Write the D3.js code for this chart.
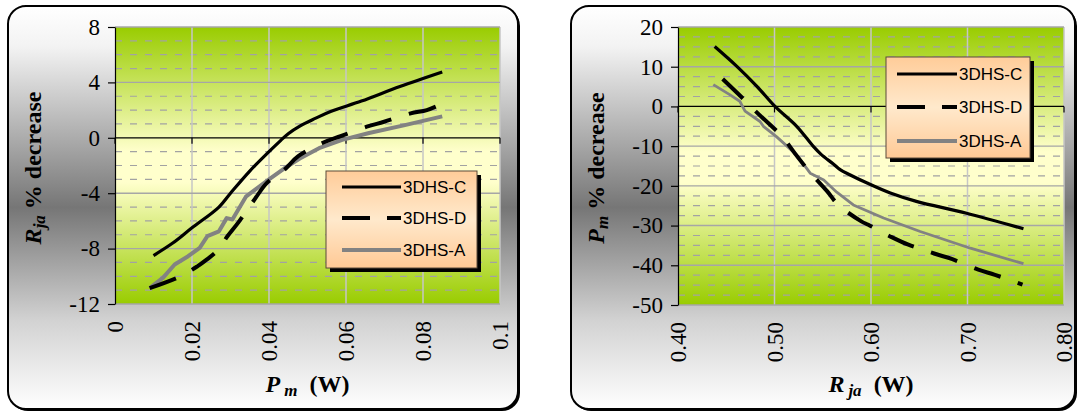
<!DOCTYPE html>
<html>
<head>
<meta charset="utf-8">
<script src="https://cdn.jsdelivr.net/npm/d3@7"></script>
<style>
  html, body { margin: 0; padding: 0; background: #ffffff; }
  svg { display: block; }
</style>
</head>
<body>
<svg id="chart" width="1078" height="413"></svg>
<script>
// ---- Left panel: Rja % decrease against Pm (W) ----
const leftXTicks = [0, 0.02, 0.04, 0.06, 0.08, 0.1];
const leftXTickLabels = ["0", "0.02", "0.04", "0.06", "0.08", "0.1"];
const leftYTicks = [8, 4, 0, -4, -8, -12];
const leftYTickLabels = ["8", "4", "0", "-4", "-8", "-12"];

const leftC = [[0.010,-8.5],[0.015,-7.6],[0.020,-6.5],[0.027,-5.0],[0.030,-4.0],[0.035,-2.4],
  [0.040,-1.0],[0.043,-0.2],[0.045,0.3],[0.048,0.85],[0.052,1.4],[0.056,1.9],[0.064,2.65],
  [0.074,3.7],[0.085,4.75]];
const leftD = [[0.009,-10.85],[0.017,-10.0],[0.0214,-9.28],[0.0238,-8.8],[0.0268,-8.08],
  [0.0292,-7.11],[0.0322,-6.05],[0.0364,-4.39],[0.0394,-3.27],[0.044,-2.3],[0.0476,-1.33],
  [0.054,-0.36],[0.0586,0.12],[0.0654,0.8],[0.0699,1.16],[0.0768,1.76],[0.081,2.0],[0.0845,2.4]];
const leftA = [[0.009,-10.85],[0.0125,-10.1],[0.0155,-9.15],[0.019,-8.55],[0.022,-7.95],
  [0.024,-7.1],[0.027,-6.75],[0.029,-5.8],[0.0305,-5.9],[0.034,-4.25],[0.040,-3.0],[0.044,-2.2],
  [0.048,-1.5],[0.053,-0.75],[0.059,-0.15],[0.066,0.35],[0.075,0.9],[0.085,1.55]];

// ---- Right panel: Pm % decrease against Rja (W) ----
const rightXTicks = [0.40, 0.50, 0.60, 0.70, 0.80];
const rightXTickLabels = ["0.40", "0.50", "0.60", "0.70", "0.80"];
const rightYTicks = [20, 10, 0, -10, -20, -30, -40, -50];
const rightYTickLabels = ["20", "10", "0", "-10", "-20", "-30", "-40", "-50"];

const rightC = [[0.438,15.1],[0.461,10.1],[0.482,5.0],[0.5005,0],[0.523,-5.0],[0.540,-10.0],
  [0.548,-12.0],[0.561,-14.5],[0.568,-15.9],[0.578,-17.2],[0.596,-19.3],[0.620,-21.8],
  [0.647,-23.9],[0.699,-26.9],[0.758,-30.8]];
const rightD = [[0.4463,6.9],[0.4677,1.9],[0.4808,-1.3],[0.503,-6.3],[0.5067,-7.1],[0.5223,-12.2],
  [0.5361,-16.4],[0.5547,-21.4],[0.5661,-24.8],[0.5904,-29.0],[0.5972,-29.8],[0.6214,-32.9],
  [0.6387,-34.8],[0.6663,-37.1],[0.6836,-38.4],[0.7112,-41.1],[0.7285,-42.4],[0.757,-44.9]];
const rightA = [[0.4366,5.5],[0.454,2.9],[0.464,1.3],[0.4695,-1.2],[0.485,-3.8],[0.4885,-5.0],
  [0.502,-7.6],[0.523,-12.2],[0.537,-16.8],[0.551,-18.5],[0.5645,-21.6],[0.5817,-24.8],
  [0.613,-28.1],[0.651,-31.5],[0.703,-35.7],[0.758,-39.6]];

const seriesNames = ["3DHS-C", "3DHS-D", "3DHS-A"];

const svg = d3.select("#chart");
const defs = svg.append("defs");

function vGradient(id, stops) {
  const g = defs.append("linearGradient").attr("id", id)
    .attr("x1", 0).attr("y1", 0).attr("x2", 0).attr("y2", 1);
  stops.forEach(([o, c]) => g.append("stop").attr("offset", o).attr("stop-color", c));
}
vGradient("panelFill", [[0, "#ffffff"], [0.1, "#f3f3f3"], [0.5, "#767676"], [0.78, "#d2d2d2"], [1, "#ffffff"]]);
vGradient("plotFill", [[0, "#99cc00"], [0.45, "#ffffcc"], [0.56, "#ffffcc"], [1, "#99cc00"]]);
vGradient("legendFill", [[0, "#ffcc99"], [0.5, "#ffe9cc"], [1, "#ffc995"]]);

const serif = "'Liberation Serif', 'Times New Roman', serif";
const sans = "'Liberation Sans', Arial, sans-serif";

const styles = [
  { color: "#000000", width: 3.2, dash: null },
  { color: "#000000", width: 4, dash: "28,18" },
  { color: "#828282", width: 3.6, dash: null }
];

function drawPanel(cfg) {
  const g = svg.append("g");

  // panel frame with a slight drop shadow
  g.append("rect")
    .attr("x", cfg.panel.x + 2).attr("y", cfg.panel.y + 2)
    .attr("width", cfg.panel.w).attr("height", cfg.panel.h)
    .attr("rx", 18).attr("fill", "#000");
  g.append("rect")
    .attr("x", cfg.panel.x).attr("y", cfg.panel.y)
    .attr("width", cfg.panel.w).attr("height", cfg.panel.h)
    .attr("rx", 18).attr("fill", "url(#panelFill)")
    .attr("stroke", "#000").attr("stroke-width", 2);

  const x = d3.scaleLinear().domain(cfg.xDomain).range([cfg.plot.x0, cfg.plot.x1]);
  const y = d3.scaleLinear().domain(cfg.yDomain).range([cfg.plot.y1, cfg.plot.y0]);

  // plot area
  g.append("rect")
    .attr("x", cfg.plot.x0).attr("y", cfg.plot.y0)
    .attr("width", cfg.plot.x1 - cfg.plot.x0).attr("height", cfg.plot.y1 - cfg.plot.y0)
    .attr("fill", "url(#plotFill)");

  // minor dashed gridlines
  const minor = d3.range(cfg.yDomain[0], cfg.yDomain[1] + 1e-9, cfg.minorStep)
    .filter(v => Math.abs(v / cfg.majorStep - Math.round(v / cfg.majorStep)) > 1e-6);
  g.selectAll(null).data(minor).join("line")
    .attr("x1", cfg.plot.x0).attr("x2", cfg.plot.x1)
    .attr("y1", d => y(d)).attr("y2", d => y(d))
    .attr("stroke", "#a2a2a2").attr("stroke-width", 1.2).attr("stroke-dasharray", "7,8");

  // vertical gridlines
  g.selectAll(null).data(cfg.xTicks.slice(1)).join("line")
    .attr("x1", d => x(d)).attr("x2", d => x(d))
    .attr("y1", cfg.plot.y0).attr("y2", cfg.plot.y1)
    .attr("stroke", "#c6c6c6").attr("stroke-width", 1.5);

  // major horizontal gridlines
  g.selectAll(null).data(cfg.yTicks.filter(v => v !== 0)).join("line")
    .attr("x1", cfg.plot.x0).attr("x2", cfg.plot.x1)
    .attr("y1", d => y(d)).attr("y2", d => y(d))
    .attr("stroke", "#a6a6a6").attr("stroke-width", 1.4);

  // x axis crossing at zero, ticks hanging below
  g.append("line")
    .attr("x1", cfg.plot.x0).attr("x2", cfg.plot.x1)
    .attr("y1", y(0)).attr("y2", y(0))
    .attr("stroke", "#000").attr("stroke-width", 1.2);
  g.selectAll(null).data(cfg.xTicks).join("line")
    .attr("x1", d => x(d)).attr("x2", d => x(d))
    .attr("y1", y(0)).attr("y2", y(0) + 6)
    .attr("stroke", "#000").attr("stroke-width", 1.2);

  // y axis with outward ticks
  const yAxis = d3.axisLeft(y).tickValues(cfg.yTicks)
    .tickFormat((d, i) => cfg.yTickLabels[i]).tickSize(7).tickSizeOuter(0).tickPadding(8);
  const ya = g.append("g").attr("transform", `translate(${cfg.plot.x0},0)`).call(yAxis);
  ya.select(".domain").attr("stroke", "#000").attr("stroke-width", 1.2);
  ya.selectAll(".tick line").attr("stroke", "#000").attr("stroke-width", 1.2);
  ya.selectAll(".tick text")
    .attr("font-family", serif).attr("font-size", 23).attr("fill", "#000");

  // rotated x tick labels below the plot area
  g.selectAll(null).data(cfg.xTicks).join("text")
    .attr("transform", d => `translate(${x(d)},${cfg.plot.y1 + 17}) rotate(-90)`)
    .attr("text-anchor", "end").attr("dy", "0.35em")
    .attr("font-family", serif).attr("font-size", 23).attr("fill", "#000")
    .text((d, i) => cfg.xTickLabels[i]);

  // series
  const line = d3.line().x(d => x(d[0])).y(d => y(d[1]));
  const smooth = d3.line().x(d => x(d[0])).y(d => y(d[1])).curve(d3.curveCatmullRom.alpha(0.5));
  [cfg.series[2], cfg.series[1], cfg.series[0]].forEach((data, k) => {
    const idx = 2 - k;
    const st = styles[idx];
    g.append("path")
      .attr("d", idx === 2 ? line(data) : smooth(data))
      .attr("fill", "none").attr("stroke", st.color)
      .attr("stroke-width", idx === 2 ? cfg.grayWidth : st.width)
      .attr("stroke-linejoin", "round")
      .attr("stroke-dasharray", st.dash);
  });

  // legend
  const L = cfg.legend;
  g.append("rect").attr("x", L.x + 4).attr("y", L.y + 4)
    .attr("width", L.w).attr("height", L.h).attr("fill", "#000");
  g.append("rect").attr("x", L.x).attr("y", L.y)
    .attr("width", L.w).attr("height", L.h)
    .attr("fill", "url(#legendFill)").attr("stroke", "#5a4a3a").attr("stroke-width", 1);
  seriesNames.forEach((name, i) => {
    const ry = L.y + L.rows[i];
    const st = styles[i];
    g.append("line")
      .attr("x1", L.x + L.lineX0).attr("x2", L.x + L.lineX1)
      .attr("y1", ry).attr("y2", ry)
      .attr("stroke", st.color).attr("stroke-width", i === 0 ? 3 : 4)
      .attr("stroke-dasharray", i === 1 ? "28,17" : null);
    g.append("text")
      .attr("x", L.x + L.lineX1 + 2).attr("y", ry).attr("dy", "0.36em")
      .attr("font-family", sans).attr("font-size", 17).attr("fill", "#000")
      .text(name);
  });

  // axis titles
  const yt = g.append("text")
    .attr("transform", `translate(${cfg.panel.x + 33},${cfg.yTitleY}) rotate(-90)`)
    .attr("text-anchor", "middle")
    .attr("font-family", serif).attr("font-size", 24).attr("font-weight", "bold").attr("fill", "#000");
  yt.append("tspan").attr("font-style", "italic").text(cfg.yTitle[0]);
  yt.append("tspan").attr("font-style", "italic").attr("font-size", 17).attr("dy", 4).text(cfg.yTitle[1]);
  yt.append("tspan").attr("dy", -4).text(cfg.yTitle[2]);

  const xt = g.append("text")
    .attr("x", (cfg.plot.x0 + cfg.plot.x1) / 2).attr("y", 392)
    .attr("text-anchor", "middle")
    .attr("font-family", serif).attr("font-size", 24).attr("font-weight", "bold").attr("fill", "#000");
  xt.append("tspan").attr("font-style", "italic").text(cfg.xTitle[0]);
  xt.append("tspan").attr("font-style", "italic").attr("font-size", 17).attr("dx", 4).attr("dy", 4).text(cfg.xTitle[1]);
  xt.append("tspan").attr("dy", -4).attr("xml:space", "preserve").text(cfg.xTitle[2]);
}

drawPanel({
  panel: { x: 8, y: 6, w: 510, h: 403 },
  plot: { x0: 115, x1: 500, y0: 27, y1: 304 },
  xDomain: [0, 0.1], yDomain: [-12, 8],
  xTicks: leftXTicks, xTickLabels: leftXTickLabels,
  yTicks: leftYTicks, yTickLabels: leftYTickLabels,
  majorStep: 4, minorStep: 1,
  series: [leftC, leftD, leftA], grayWidth: 4,
  legend: { x: 326, y: 171, w: 151, h: 97, rows: [16, 47, 79], lineX0: 16, lineX1: 75 },
  yTitle: ["R", "ja", " % decrease"], yTitleY: 168,
  xTitle: ["P", "m", "  (W)"]
});

drawPanel({
  panel: { x: 571, y: 6, w: 504, h: 403 },
  plot: { x0: 678, x1: 1064, y0: 27, y1: 305 },
  xDomain: [0.4, 0.8], yDomain: [-50, 20],
  xTicks: rightXTicks, xTickLabels: rightXTickLabels,
  yTicks: rightYTicks, yTickLabels: rightYTickLabels,
  majorStep: 10, minorStep: 2.5,
  series: [rightC, rightD, rightA], grayWidth: 2.8,
  legend: { x: 886, y: 57, w: 144, h: 101, rows: [17, 50, 84], lineX0: 11, lineX1: 71 },
  yTitle: ["P", "m", " % decrease"], yTitleY: 168,
  xTitle: ["R", "ja", "  (W)"]
});
</script>
</body>
</html>
